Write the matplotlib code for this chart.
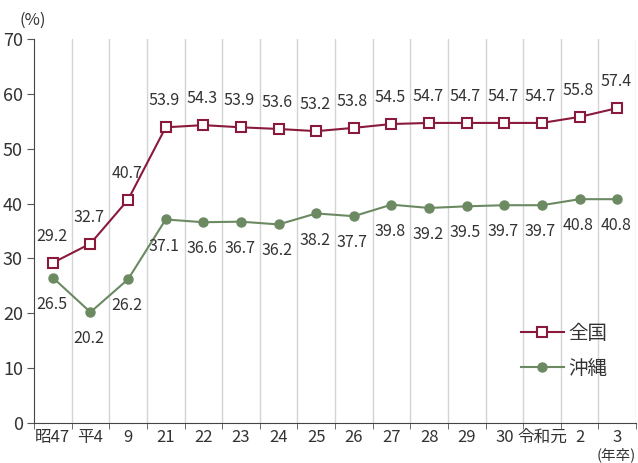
#!/usr/bin/env python3

import matplotlib
matplotlib.use("Agg")
import matplotlib.pyplot as plt
from matplotlib.ticker import FixedLocator

plt.rcParams["font.family"] = ["Noto Sans CJK JP", "DejaVu Sans"]

years = ["昭47", "平4", "9", "21", "22", "23", "24", "25", "26", "27",
		 "28", "29", "30", "令和元", "2", "3"]
zenkoku = [29.2, 32.7, 40.7, 53.9, 54.3, 53.9, 53.6, 53.2, 53.8, 54.5,
		   54.7, 54.7, 54.7, 54.7, 55.8, 57.4]
okinawa = [26.5, 20.2, 26.2, 37.1, 36.6, 36.7, 36.2, 38.2, 37.7, 39.8,
		   39.2, 39.5, 39.7, 39.7, 40.8, 40.8]

RED = "#8a1a3c"
GREEN = "#6b8a62"
TXT = "#333333"


def main():
	fig = plt.figure(figsize=(6.38, 4.63), dpi=100)
	ax = fig.add_axes([34 / 638, 40 / 463, 602 / 638, 384 / 463])

	x = list(range(len(years)))

	# vertical grid at category boundaries
	for b in range(len(years)):
		ax.axvline(b + 0.5, color="#d4d4d4", lw=1, zorder=0)

	ax.plot(x, zenkoku, color=RED, lw=1.5, marker="s", ms=7.5, mfc="white",
			mec=RED, mew=1.5, label="全国", zorder=3)
	ax.plot(x, okinawa, color=GREEN, lw=1.5, marker="o", ms=6.5, mfc=GREEN,
			mec=GREEN, label="沖縄", zorder=3)

	for i, v in enumerate(zenkoku):
		ax.annotate(f"{v:.1f}", (i, v), xytext=(-1, 13), textcoords="offset points",
					ha="center", va="bottom", fontsize=11.5, color=TXT)
	for i, v in enumerate(okinawa):
		ax.annotate(f"{v:.1f}", (i, v), xytext=(-1, -13), textcoords="offset points",
					ha="center", va="top", fontsize=11.5, color=TXT)

	ax.set_xlim(-0.5, len(years) - 0.5)
	ax.set_ylim(0, 70)
	ax.set_yticks(range(0, 71, 10))
	ax.set_xticks(x)
	ax.set_xticklabels(years)
	ax.xaxis.set_minor_locator(FixedLocator([b + 0.5 for b in range(-1, len(years))]))
	ax.tick_params(axis="x", which="major", length=0, pad=4, labelsize=12, colors=TXT)
	ax.tick_params(axis="x", which="minor", length=4, direction="out", color="#555555")
	ax.tick_params(axis="y", length=5, direction="out", pad=3, labelsize=13, colors=TXT, color="#555555")

	for s in ("top", "right"):
		ax.spines[s].set_visible(False)
	ax.spines["left"].set_color("#444444")
	ax.spines["bottom"].set_color("#444444")

	fig.text(20 / 638, 1 - 20 / 463, "(%)", fontsize=12, color=TXT, ha="left", va="center")
	fig.text(636 / 638, 0.5 / 463, "(年卒)", fontsize=10.5, color=TXT, ha="right", va="bottom")

	ax.legend(loc="upper left", bbox_to_anchor=(521 / 638, 1 - 323 / 463),
			  bbox_transform=fig.transFigure, frameon=False, borderpad=0, borderaxespad=0,
			  fontsize=14, handlelength=2.2, labelspacing=0.7, handletextpad=0.25,
			  labelcolor=TXT)

	fig.savefig("out.png", dpi=100)


if __name__ == "__main__":
	main()
